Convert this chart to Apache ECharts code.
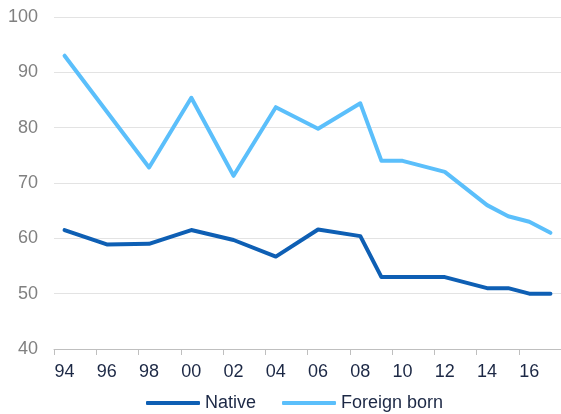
<!DOCTYPE html>
<html>
<head>
<meta charset="utf-8">
<script src="https://cdn.jsdelivr.net/npm/echarts@6/dist/echarts.min.js"></script>
<style>
  html, body { margin: 0; padding: 0; background: #ffffff; }
  #chart { width: 561px; height: 414px; }
</style>
</head>
<body>
<div id="chart"></div>
<script>
// One category per year, 1994 to 2017; labels and ticks every second year.
const years = ['94','95','96','97','98','99','00','01','02','03','04','05',
               '06','07','08','09','10','11','12','13','14','15','16','17'];

// Survey values (null = no observation that year; lines are joined across gaps)
const native = [61.5, null, 58.9, null, 59.0, null, 61.5, null, 59.7, null, 56.7, null,
                61.6, null, 60.4, 53.0, 53.0, null, 53.0, null, 51.0, 51.0, 50.0, 50.0];
const foreignBorn = [93.0, null, null, null, 72.8, null, 85.4, null, 71.3, null, 83.7, null,
                     79.8, null, 84.4, 74.0, 74.0, null, 72.0, null, 66.0, 64.0, 63.0, 61.0];

const yTicks = { min: 40, max: 100, interval: 10 };

const chart = echarts.init(document.getElementById('chart'));
chart.setOption({
  animation: false,
  textStyle: { fontFamily: 'Liberation Sans, Arial, sans-serif' },
  grid: { left: 54, right: 0, top: 17, bottom: 65, containLabel: false },
  legend: {
    left: 146,
    top: 394,
    padding: 0,
    icon: 'roundRect',
    itemWidth: 54,
    itemHeight: 4,
    itemGap: 26,
    textStyle: { fontSize: 18, color: '#1c2845' },
    data: ['Native', 'Foreign born']
  },
  xAxis: {
    type: 'category',
    data: years,
    boundaryGap: true,
    axisLine: { show: true, lineStyle: { color: '#bfbfbf', width: 1 } },
    axisTick: { show: true, interval: 1, length: 6, lineStyle: { color: '#bfbfbf' } },
    axisLabel: { interval: 1, fontSize: 18, color: '#1c2845', margin: 14 },
    splitLine: { show: false }
  },
  yAxis: {
    type: 'value',
    min: yTicks.min,
    max: yTicks.max,
    interval: yTicks.interval,
    axisLine: { show: false },
    axisTick: { show: false },
    axisLabel: { fontSize: 18, color: '#808080', margin: 16 },
    splitLine: { lineStyle: { color: '#e3e3e3', width: 1 } }
  },
  series: [
    {
      name: 'Native',
      type: 'line',
      data: native,
      connectNulls: true,
      symbol: 'none',
      lineStyle: { color: '#0e5fb4', width: 4, join: 'round', cap: 'round' },
      itemStyle: { color: '#0e5fb4' }
    },
    {
      name: 'Foreign born',
      type: 'line',
      data: foreignBorn,
      connectNulls: true,
      symbol: 'none',
      lineStyle: { color: '#5bbffb', width: 4, join: 'round', cap: 'round' },
      itemStyle: { color: '#5bbffb' }
    }
  ]
});
</script>
</body>
</html>
